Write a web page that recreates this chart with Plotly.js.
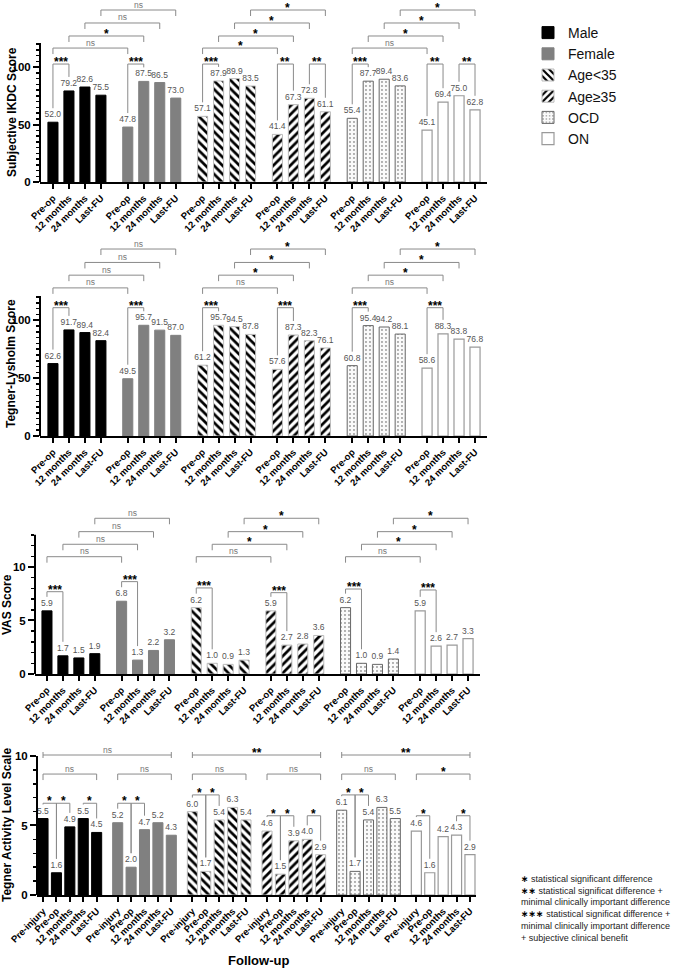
<!DOCTYPE html>
<html><head><meta charset="utf-8">
<script src="https://cdn.plot.ly/plotly-3.0.1.min.js"></script>
<style>html,body{margin:0;padding:0;background:#fff}#chart{width:685px;height:968px}</style>
</head><body><div id="chart"></div>
<script>
// ---------- data ----------
const groupNames = ['Male', 'Female', 'Age<35', 'Age≥35', 'OCD', 'ON'];
const followUp4 = ['Pre-op', '12 months', '24 months', 'Last-FU'];
const followUp5 = ['Pre-injury', 'Pre-op', '12 months', '24 months', 'Last-FU'];

const ikdcValues = [
  [52.0, 79.2, 82.6, 75.5], [47.8, 87.5, 86.5, 73.0], [57.1, 87.9, 89.9, 83.5],
  [41.4, 67.3, 72.8, 61.1], [55.4, 87.7, 89.4, 83.6], [45.1, 69.4, 75.0, 62.8]];
const lysholmValues = [
  [62.6, 91.7, 89.4, 82.4], [49.5, 95.7, 91.5, 87.0], [61.2, 95.7, 94.5, 87.8],
  [57.6, 87.3, 82.3, 76.1], [60.8, 95.4, 94.2, 88.1], [58.6, 88.3, 83.8, 76.8]];
const vasValues = [
  [5.9, 1.7, 1.5, 1.9], [6.8, 1.3, 2.2, 3.2], [6.2, 1.0, 0.9, 1.3],
  [5.9, 2.7, 2.8, 3.6], [6.2, 1.0, 0.9, 1.4], [5.9, 2.6, 2.7, 3.3]];
const tegnerValues = [
  [5.5, 1.6, 4.9, 5.5, 4.5], [5.2, 2.0, 4.7, 5.2, 4.3], [6.0, 1.7, 5.4, 6.3, 5.4],
  [4.6, 1.5, 3.9, 4.0, 2.9], [6.1, 1.7, 5.4, 6.3, 5.5], [4.6, 1.6, 4.2, 4.3, 2.9]];

// significance brackets: [groupA, barA, groupB, barB, level, label, kind]
const ikdcBrackets = [
  [0,0,0,1,102.6,'***','w'],[1,0,1,1,102.6,'***','w'],[2,0,2,1,102.6,'***','w'],
  [3,0,3,1,102.6,'**','w'],[3,2,3,3,102.6,'**','w'],[4,0,4,1,102.6,'***','w'],
  [5,0,5,1,102.6,'**','w'],[5,2,5,3,102.6,'**','w'],
  [0,0,1,0,116.5,'ns','b'],[0,1,1,1,127,'*','b'],[0,2,1,2,138.3,'ns','b'],[0,3,1,3,149.6,'ns','b'],
  [2,0,3,0,116.5,'*','b'],[2,1,3,1,127,'*','b'],[2,2,3,2,138.3,'*','b'],[2,3,3,3,149.6,'*','b'],
  [4,0,5,0,116.5,'ns','b'],[4,1,5,1,127,'*','b'],[4,2,5,2,138.3,'*','b'],[4,3,5,3,149.6,'*','b']];
const lysholmBrackets = [
  [0,0,0,1,110.9,'***','w'],[1,0,1,1,110.9,'***','w'],[2,0,2,1,110.9,'***','w'],
  [3,0,3,1,110.9,'***','w'],[4,0,4,1,110.9,'***','w'],[5,0,5,1,110.9,'***','w'],
  [0,0,1,0,128,'ns','b'],[0,1,1,1,139,'ns','b'],[0,2,1,2,150,'ns','b'],[0,3,1,3,161.6,'ns','b'],
  [2,0,3,0,128,'ns','b'],[2,1,3,1,139,'*','b'],[2,2,3,2,150,'*','b'],[2,3,3,3,161.6,'*','b'],
  [4,0,5,0,128,'ns','b'],[4,1,5,1,139,'*','b'],[4,2,5,2,150,'*','b'],[4,3,5,3,161.6,'*','b']];
const vasBrackets = [
  [0,0,0,1,7.69,'***','w'],[1,0,1,1,8.63,'***','w'],[2,0,2,1,8.04,'***','w'],
  [3,0,3,1,7.6,'***','w'],[4,0,4,1,7.94,'***','w'],[5,0,5,1,7.85,'***','w'],
  [0,0,1,0,10.96,'ns','b'],[0,1,1,1,12.12,'ns','b'],[0,2,1,2,13.3,'ns','b'],[0,3,1,3,14.55,'ns','b'],
  [2,0,3,0,10.96,'ns','b'],[2,1,3,1,12.12,'*','b'],[2,2,3,2,13.3,'*','b'],[2,3,3,3,14.55,'*','b'],
  [4,0,5,0,10.96,'ns','b'],[4,1,5,1,12.12,'*','b'],[4,2,5,2,13.3,'*','b'],[4,3,5,3,14.55,'*','b']];
const tegnerBrackets = [
  [0,0,1,4,10.07,'ns','c'],[2,0,3,4,10.07,'**','c'],[4,0,5,4,10.07,'**','c'],
  [0,0,0,4,8.7,'ns','b'],[1,0,1,4,8.7,'ns','b'],[2,0,2,4,8.7,'ns','b'],
  [3,0,3,4,8.7,'ns','b'],[4,0,4,4,8.7,'ns','b'],[5,0,5,4,8.7,'*','b'],
  [0,0,0,1,6.6,'*','w'],[0,1,0,2,6.6,'*','w'],[0,3,0,4,6.6,'*','w'],
  [1,0,1,1,6.6,'*','w'],[1,1,1,2,6.6,'*','w'],
  [2,0,2,1,7.2,'*','w'],[2,1,2,2,7.2,'*','w'],
  [3,0,3,1,5.7,'*','w'],[3,1,3,2,5.7,'*','w'],[3,3,3,4,5.7,'*','w'],
  [4,0,4,1,7.2,'*','w'],[4,1,4,2,7.2,'*','w'],
  [5,0,5,1,5.7,'*','w'],[5,3,5,4,5.7,'*','w']];

const footnoteStars = ['∗', '∗∗', '', '∗∗∗', '', ''];
const footnoteLines = [
  ' statistical significant difference',
  ' statistical significat difference +',
  'minimal clinically important difference',
  ' statistical significat difference +',
  'minimal clinically important difference',
  '+ subjective clinical benefit'];

// ---------- styling / layout ----------
const FONT = 'Liberation Sans, Arial, Helvetica, sans-serif';
const W = 685, H = 968;
const groupStyles = [
  {color: '#000000', line: {color: '#000000', width: 1}},
  {color: '#808080', line: {color: '#808080', width: 1}},
  {color: '#ffffff', pattern: {shape: '\\', fgcolor: '#000', bgcolor: '#fff', size: 6, solidity: 0.45}, line: {color: '#bbbbbb', width: 1}},
  {color: '#ffffff', pattern: {shape: '/', fgcolor: '#000', bgcolor: '#fff', size: 6, solidity: 0.45}, line: {color: '#bbbbbb', width: 1}},
  {color: '#ffffff', pattern: {shape: '.', fgcolor: '#444', bgcolor: '#fafafa', size: 4, solidity: 0.1}, line: {color: '#666666', width: 1}},
  {color: '#ffffff', line: {color: '#9a9a9a', width: 1.2}}
];

const panels = [
  {values: ikdcValues, labels: followUp4, brackets: ikdcBrackets, title: 'Subjective IKDC Score',
   xDom: [40, 487], xRange: [-0.81, 27.15], step: 4.68, barW: 0.63,
   yDom: [0, 182], yMax: 158.3, axisTop: 121, major: [0, 50, 100], minorStep: 5, ppu: 1.15, tx: 12, ty: 112},
  {values: lysholmValues, labels: followUp4, brackets: lysholmBrackets, title: 'Tegner-Lysholm Score',
   xDom: [40, 487], xRange: [-0.81, 27.15], step: 4.68, barW: 0.63,
   yDom: [240, 436], yMax: 169.4, axisTop: 121, major: [0, 50, 100], minorStep: 5, ppu: 1.157, tx: 11, ty: 364},
  {values: vasValues, labels: followUp4, brackets: vasBrackets, title: 'VAS Score',
   xDom: [35, 480], xRange: [-0.75, 27.15], step: 4.68, barW: 0.63,
   yDom: [505, 674], yMax: 15.79, axisTop: 13, major: [0, 5, 10], minorStep: 1, ppu: 10.7, tx: 7, ty: 605},
  {values: tegnerValues, labels: followUp5, brackets: tegnerBrackets, title: 'Tegner Activity Level Scale',
   xDom: [37, 476], xRange: [-0.45, 32.3], step: 5.57, barW: 0.75,
   yDom: [740, 895], yMax: 11.15, axisTop: 10, major: [0, 5, 10], minorStep: 1, ppu: 13.9, tx: 7, ty: 825}
];

const traces = [], shapes = [], annotations = [];
const layout = {
  width: W, height: H, margin: {l: 0, r: 0, t: 0, b: 0},
  paper_bgcolor: '#fff', plot_bgcolor: '#fff',
  font: {family: FONT, color: '#000'},
  barmode: 'overlay', showlegend: true,
  legend: {x: 528 / W, y: 1 - 17 / H, xanchor: 'left', yanchor: 'top',
           font: {family: FONT, size: 14, color: '#111'}, tracegroupgap: 2.6,
           bgcolor: 'rgba(0,0,0,0)', traceorder: 'normal'},
  shapes: shapes, annotations: annotations
};

panels.forEach((P, p) => {
  const sfx = p === 0 ? '' : String(p + 1);
  const xid = 'x' + sfx, yid = 'y' + sfx;
  const pos = (g, i) => g * P.step + i;
  const tickvals = [], ticktext = [];
  P.values.forEach((vals, g) => {
    const xs = vals.map((_, i) => pos(g, i));
    xs.forEach((x, i) => { tickvals.push(x); ticktext.push(P.labels[i]); });
    traces.push({
      type: 'bar', x: xs, y: vals, width: P.barW, name: groupNames[g],
      legendgroup: groupNames[g], showlegend: p === 0,
      xaxis: xid, yaxis: yid,
      marker: groupStyles[g],
      text: vals.map(v => v.toFixed(1)), textposition: 'outside', textangle: 0,
      constraintext: 'none', cliponaxis: false,
      outsidetextfont: {family: FONT, size: 8.5, color: '#555'},
      hoverinfo: 'skip'
    });
  });
  const minorVals = [];
  for (let v = P.minorStep; v <= P.axisTop + 1e-9; v += P.minorStep) {
    if (!P.major.some(m => Math.abs(m - v) < 1e-9)) minorVals.push(v);
  }
  layout['xaxis' + sfx] = {
    domain: [P.xDom[0] / W, P.xDom[1] / W], range: P.xRange, anchor: yid,
    showgrid: false, zeroline: false, showline: true, linecolor: '#000', linewidth: 2,
    ticks: 'outside', ticklen: 5, tickwidth: 2, tickcolor: '#000',
    tickmode: 'array', tickvals: tickvals, ticktext: ticktext, tickangle: -45,
    tickfont: {family: FONT, size: 9.5, color: '#000', weight: 'bold'}
  };
  layout['yaxis' + sfx] = {
    domain: [1 - P.yDom[1] / H, 1 - P.yDom[0] / H], range: [0, P.yMax], anchor: xid,
    showgrid: false, zeroline: false, showline: false,
    ticks: 'outside', ticklen: 6, tickwidth: 2, tickcolor: '#000',
    tickmode: 'array', tickvals: P.major,
    tickfont: {family: FONT, size: 11.5, color: '#000', weight: 'bold'},
    minor: {tickmode: 'array', tickvals: minorVals, ticks: 'outside', ticklen: 3, tickwidth: 1.5, tickcolor: '#000', showgrid: false}
  };
  shapes.push({type: 'line', xref: xid + ' domain', yref: yid, x0: 0, x1: 0, y0: 0, y1: P.axisTop,
               line: {color: '#000', width: 2}});
  annotations.push({xref: 'paper', yref: 'paper', x: P.tx / W, y: 1 - P.ty / H, text: P.title,
    textangle: -90, showarrow: false, xanchor: 'center', yanchor: 'middle',
    font: {family: FONT, size: 12, color: '#000', weight: 'bold'}});
  const u = 1 / P.ppu;
  P.brackets.forEach(b => {
    const [gA, iA, gB, iB, level, label, kind] = b;
    const xa = pos(gA, iA), xb = pos(gB, iB);
    let path;
    if (kind === 'w') {
      const ya = Math.min(P.values[gA][iA] + 14 * u, level);
      const yb = Math.min(P.values[gB][iB] + 14 * u, level);
      path = `M${xa},${ya} L${xa},${level} L${xb},${level} L${xb},${yb}`;
    } else if (kind === 'b') {
      const d = 6 * u;
      path = `M${xa},${level - d} L${xa},${level} L${xb},${level} L${xb},${level - d}`;
    } else {
      const c = 3 * u;
      path = `M${xa},${level - c} L${xa},${level + c} M${xa},${level} L${xb},${level} M${xb},${level - c} L${xb},${level + c}`;
    }
    shapes.push({type: 'path', xref: xid, yref: yid, path: path, line: {color: '#8a8a8a', width: 1}});
    const isNs = label === 'ns';
    annotations.push({xref: xid, yref: yid, x: (xa + xb) / 2, y: level, text: label, showarrow: false,
      xanchor: 'center', yanchor: 'bottom', yshift: isNs ? -1.5 : -7,
      font: isNs ? {family: FONT, size: 8.5, color: '#777'} : {family: FONT, size: 12, color: '#000', weight: 'bold'}});
  });
});

annotations.push({xref: 'paper', yref: 'paper', x: 258 / W, y: 1 - 960 / H, text: 'Follow-up',
  showarrow: false, xanchor: 'center', yanchor: 'middle',
  font: {family: FONT, size: 13, color: '#000', weight: 'bold'}});
const footText = footnoteLines.map((t, k) => (footnoteStars[k]
  ? '<span style="font-family:DejaVu Sans;color:#000;font-weight:bold">' + footnoteStars[k] + '</span>' : '') + t).join('<br>');
annotations.push({xref: 'paper', yref: 'paper', x: 519 / W, y: 1 - 872 / H, text: footText,
  showarrow: false, xanchor: 'left', yanchor: 'top', align: 'left',
  font: {family: FONT, size: 9, color: '#222'}});

Plotly.newPlot('chart', traces, layout, {displayModeBar: false, staticPlot: true});
</script>
</body></html>
